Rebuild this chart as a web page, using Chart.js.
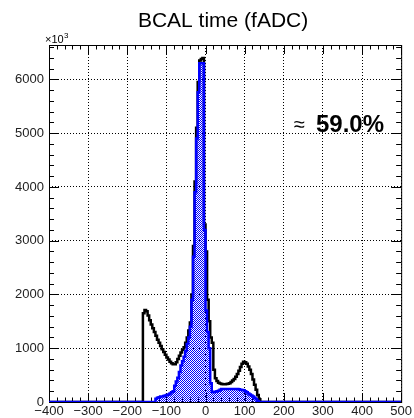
<!DOCTYPE html>
<html>
<head>
<meta charset="utf-8">
<script src="https://cdn.jsdelivr.net/npm/chart.js@4.4.0/dist/chart.umd.min.js"></script>
<style>
  html, body { margin: 0; padding: 0; background: #fff; }
</style>
</head>
<body>
<canvas id="bcalTime" width="414" height="418"></canvas>
<script>
// histogram binning (ns), first bin lower edge and width
const binStart = -160;
const binWidth = 4;
const xRange = [-400, 500];
const yMax = 6640;          // in units of 10^3 counts
const xTicks = [-400, -300, -200, -100, 0, 100, 200, 300, 400, 500];
const yTicks = [0, 1000, 2000, 3000, 4000, 5000, 6000];
const xMajor = 100, xMinor = 20;
const yMajor = 1000, yMinor = 200;

// all BCAL fADC hits (black)
const allHits = [
  0, 1650, 1710, 1690, 1610, 1520, 1440, 1370, 1300, 1230,
  1160, 1100, 1040, 980, 930, 880, 830, 790, 750, 720,
  700, 700, 740, 800, 860, 920, 970, 1020, 1100, 1200,
  1330, 1480, 2000, 2900, 4100, 5100, 5950, 6350, 6380, 6400,
  3300, 2800, 1900, 1500, 1200, 1100, 600, 440, 390, 360,
  345, 335, 330, 330, 335, 340, 350, 370, 400, 430,
  470, 520, 580, 650, 710, 750, 740, 710, 660, 600,
  520, 420, 320, 230, 130, 50, 0
];

// matched hits (blue, hatched)
const matchedHits = [
  0, 0, 0, 0, 0, 0, 0, 0, 0, 60,
  80, 90, 100, 100, 110, 120, 130, 140, 160, 180,
  200, 300, 380, 450, 560, 680, 760, 840, 950, 1080,
  1200, 1400, 1900, 2700, 3900, 4900, 5760, 6300, 6300, 6300,
  3200, 1700, 1300, 1000, 350, 190, 180, 190, 200, 210,
  230, 240, 240, 240, 240, 240, 240, 240, 240, 240,
  240, 240, 235, 230, 225, 220, 200, 180, 160, 140,
  120, 100, 80, 50, 20, 0, 0
];

const titleText = 'BCAL time (fADC)';
const ratioText = '59.0%';

function histPoints(values) {
  let pts = [{x: xRange[0], y: 0}];
  values.forEach((v, i) => pts.push({x: binStart + i * binWidth, y: v}));
  pts.push({x: binStart + values.length * binWidth, y: 0});
  pts.push({x: xRange[1], y: 0});
  return pts;
}

let canvas = document.getElementById('bcalTime');
let ctx = canvas.getContext('2d');

// ROOT style dotted fill, transparent between dots
function dotPattern(color) {
  const c = document.createElement('canvas');
  c.width = 2; c.height = 2;
  const g = c.getContext('2d');
  g.fillStyle = color;
  g.fillRect(0, 0, 1, 1);
  g.fillRect(1, 1, 1, 1);
  return ctx.createPattern(c, 'repeat');
}

const font = 'Liberation Sans';

// frame with inside major/minor ticks on all four sides, plus the pad texts
const frameTicks = {
  id: 'frameTicks',
  beforeDatasetsDraw(chart) {
    const c = chart.ctx;
    const a = chart.chartArea;
    const x = chart.scales.x, y = chart.scales.y;
    c.save();
    c.strokeStyle = '#000';
    c.lineWidth = 1;
    c.strokeRect(a.left + 0.5, a.top + 0.5, a.right - a.left, a.bottom - a.top);
    c.beginPath();
    for (let v = xRange[0]; v <= xRange[1]; v += xMinor) {
      let px = Math.round(x.getPixelForValue(v)) + 0.5;
      let len = (v % xMajor == 0) ? 9 : 4.5;
      c.moveTo(px, a.bottom); c.lineTo(px, a.bottom - len);
      c.moveTo(px, a.top); c.lineTo(px, a.top + len);
    }
    for (let v = 0; v <= yMax; v += yMinor) {
      let py = Math.round(y.getPixelForValue(v)) + 0.5;
      let len = (v % yMajor == 0) ? 10 : 5;
      c.moveTo(a.left, py); c.lineTo(a.left + len, py);
      c.moveTo(a.right, py); c.lineTo(a.right - len, py);
    }
    c.stroke();
    c.restore();
  },
  afterDraw(chart) {
    const c = chart.ctx;
    const a = chart.chartArea;
    c.save();
    c.fillStyle = '#000';
    c.textBaseline = 'alphabetic';
    // title centred over the frame
    c.textAlign = 'center';
    c.font = '21px "' + font + '"';
    c.fillText(titleText, (a.left + a.right) / 2 - 2, 27);
    c.textAlign = 'left';
    c.font = '11px "' + font + '"';
    c.fillText('\u00d710', 45, 43);
    c.font = '8px "' + font + '"';
    c.fillText('3', 64, 38);
    c.font = '20px "' + font + '"';
    c.fillText('\u2248', 294, 131);
    c.font = 'bold 24px "' + font + '"';
    c.fillText(ratioText, 316, 132);
    c.restore();
  }
};

let bcalChart = new Chart(ctx, {
  type: 'line',
  data: {
    datasets: [{
      label: 'matched',
      data: histPoints(matchedHits),
      stepped: 'after',
      borderColor: '#0000ff',
      borderWidth: 2.5,
      backgroundColor: dotPattern('#0000ff'),
      fill: 'origin',
      pointRadius: 0,
      order: 1
    }, {
      label: 'all',
      data: histPoints(allHits),
      stepped: 'after',
      borderColor: '#000',
      borderWidth: 2.5,
      fill: false,
      pointRadius: 0,
      order: 2
    }]
  },
  plugins: [frameTicks],
  options: {
    responsive: false,
    animation: false,
    layout: { padding: { top: 45, right: 12 } },
    plugins: {
      legend: { display: false },
      tooltip: { enabled: false },
      title: { display: false }
    },
    scales: {
      x: {
        type: 'linear',
        min: xRange[0],
        max: xRange[1],
        grid: { color: '#000', lineWidth: 1, drawTicks: false },
        border: { display: false, dash: [1, 2] },
        afterBuildTicks: s => { s.ticks = xTicks.map(v => ({value: v})); },
        ticks: {
          autoSkip: false,
          maxRotation: 0,
          padding: 2,
          color: '#222',
          font: { family: font, size: 13 },
          callback: v => String(v).replace('-', '\u2212')
        },
        afterFit: s => { s.height = 16; }
      },
      y: {
        type: 'linear',
        min: 0,
        max: yMax,
        grid: { color: '#000', lineWidth: 1, drawTicks: false },
        border: { display: false, dash: [1, 2] },
        afterBuildTicks: s => { s.ticks = yTicks.map(v => ({value: v})); },
        ticks: {
          autoSkip: false,
          padding: 5,
          color: '#222',
          font: { family: font, size: 13 },
          callback: v => String(v)
        },
        afterFit: s => { s.width = 49; }
      }
    }
  }
});
</script>
</body>
</html>
